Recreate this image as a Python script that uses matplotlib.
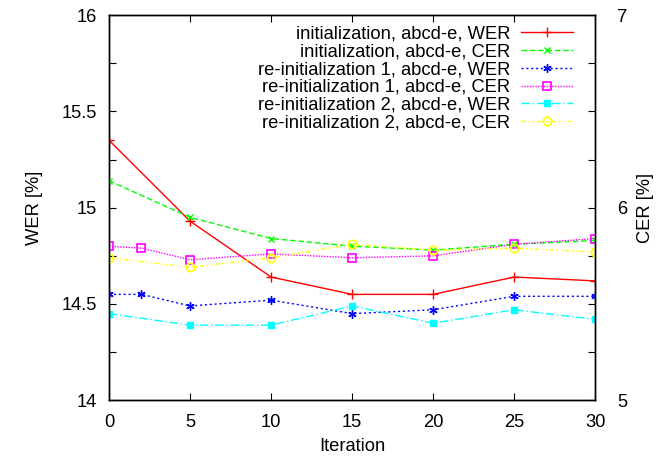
"""WER / CER over training iterations, initialization vs re-initialization."""

import matplotlib

matplotlib.use("Agg")
import matplotlib.pyplot as plt
from matplotlib.ticker import MultipleLocator, FormatStrFormatter

plt.rcParams["font.family"] = ["Liberation Sans", "DejaVu Sans"]
plt.rcParams["font.size"] = 13.2

# data
iters = [0, 5, 10, 15, 20, 25, 30]
iters_re1 = [0, 2, 5, 10, 15, 20, 25, 30]

init_wer = [15.35, 14.93, 14.64, 14.55, 14.55, 14.64, 14.62]
init_cer = [6.14, 5.95, 5.84, 5.80, 5.78, 5.81, 5.83]
re1_wer = [14.55, 14.55, 14.49, 14.52, 14.45, 14.47, 14.54, 14.54]
re1_cer = [5.80, 5.79, 5.73, 5.76, 5.74, 5.75, 5.81, 5.84]
re2_wer = [14.45, 14.39, 14.39, 14.49, 14.40, 14.47, 14.42]
re2_cer = [5.74, 5.69, 5.74, 5.81, 5.78, 5.79, 5.77]

labels = [
    "initialization, abcd-e, WER",
    "initialization, abcd-e, CER",
    "re-initialization 1, abcd-e, WER",
    "re-initialization 1, abcd-e, CER",
    "re-initialization 2, abcd-e, WER",
    "re-initialization 2, abcd-e, CER",
]

fig = plt.figure(figsize=(6.57, 4.58), dpi=100)
ax = fig.add_axes([0.166, 0.126, 0.740, 0.841])
ax2 = ax.twinx()

lw = 1.0
h1, = ax.plot(iters, init_wer, color="#ff0000", ls="-", lw=lw, marker="+", ms=7)
h2, = ax2.plot(iters, init_cer, color="#00ff00", ls=(0, (4, 2)), lw=lw, marker="x", ms=5)
h3, = ax.plot(iters_re1, re1_wer, color="#0000ff", ls=(0, (1.5, 2)), lw=lw, marker=(6, 2, 0), ms=6)
h4, = ax2.plot(iters_re1, re1_cer, color="#ff00ff", ls=(0, (1, 1)), lw=lw, marker="s", ms=5.5,
               mfc="none", mew=1.2)
h5, = ax.plot(iters, re2_wer, color="#00ffff", ls=(0, (6, 2, 1, 2)), lw=lw, marker="s", ms=5)
h6, = ax2.plot(iters, re2_cer, color="#ffff00", ls=(0, (3, 2, 1, 2, 1, 2)), lw=lw, marker="o",
               ms=6, mfc="none", mew=1.2)

ax.set_xlim(0, 30)
ax.set_ylim(14, 16)
ax2.set_ylim(5, 7)
ax.xaxis.set_major_locator(MultipleLocator(5))
ax.yaxis.set_major_locator(MultipleLocator(0.5))
ax.yaxis.set_minor_locator(MultipleLocator(0.25))
ax.yaxis.set_major_formatter(FormatStrFormatter("%g"))
ax2.yaxis.set_major_locator(MultipleLocator(1))
ax2.yaxis.set_minor_locator(MultipleLocator(0.25))
ax2.yaxis.set_major_formatter(FormatStrFormatter("%g"))

ax.tick_params(axis="x", direction="in", top=True, length=5, width=0.8, pad=10)
ax.tick_params(axis="y", which="both", direction="in", length=5, width=0.8, pad=9)
ax2.tick_params(axis="y", which="both", direction="in", length=5, width=0.8, pad=16)
for a in (ax, ax2):
    for s in a.spines.values():
        s.set_linewidth(1.0)

ax.set_xlabel("Iteration", labelpad=5)
ax.set_ylabel("WER [%]", labelpad=13)
ax2.set_ylabel("CER [%]", labelpad=7)

ax2.legend([h1, h2, h3, h4, h5, h6], labels, loc="upper right", frameon=False,
           bbox_to_anchor=(0.965, 0.988), markerfirst=False, handlelength=2.8,
           labelspacing=0.05, handletextpad=0.6, borderaxespad=0, borderpad=0.3)

fig.savefig("out.png", dpi=100)
